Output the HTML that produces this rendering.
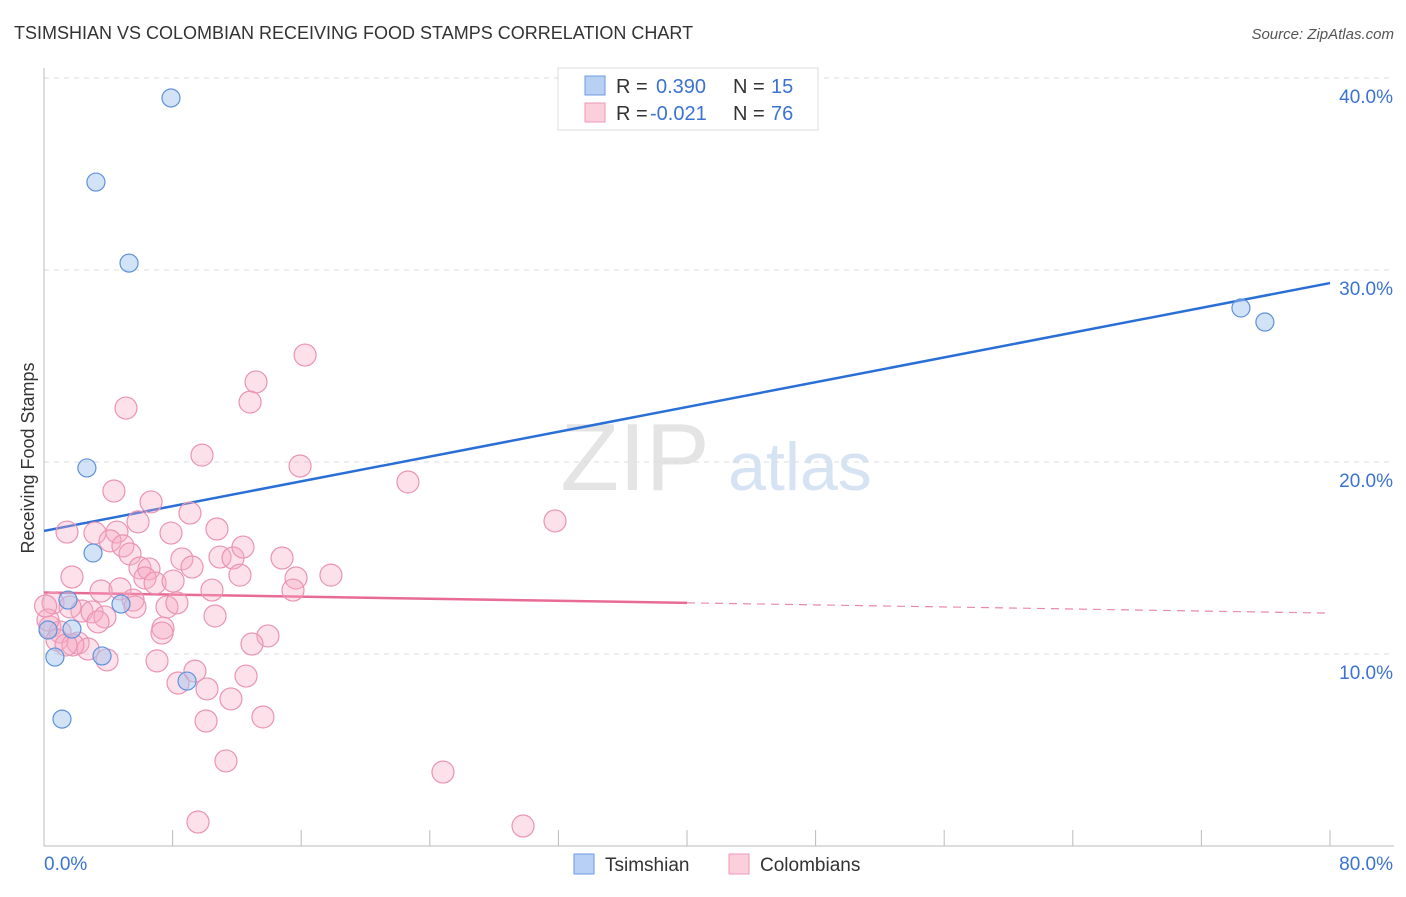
<!DOCTYPE html>
<html><head><meta charset="utf-8"><style>
body{margin:0;background:#fff;font-family:"Liberation Sans",sans-serif;}
svg text{font-family:"Liberation Sans",sans-serif;}
</style></head><body>
<svg id="chart" width="1406" height="892" xmlns="http://www.w3.org/2000/svg">
<text x="14" y="39" font-size="18" fill="#333">TSIMSHIAN VS COLOMBIAN RECEIVING FOOD STAMPS CORRELATION CHART</text>
<text x="1394" y="39" font-size="15" fill="#555" text-anchor="end" font-style="italic">Source: ZipAtlas.com</text>
<text transform="translate(34,458) rotate(-90)" font-size="18" fill="#333" text-anchor="middle">Receiving Food Stamps</text>
<g>
<text x="635" y="490" font-size="96" fill="#e4e4e4" font-family="Liberation Serif,serif" text-anchor="middle">ZIP</text>
<text x="800" y="490" font-size="68" fill="#d6e3f3" text-anchor="middle">atlas</text>
</g>
<g id="grid"></g><g id="axes"></g><g id="lines"></g><g id="pts"></g>
<g>
<rect x="558" y="68" width="260" height="62" fill="#fff" stroke="#ddd"/>
<rect x="585" y="76" width="20" height="19" fill="#b7d0f3" stroke="#6d9be0"/>
<rect x="585" y="103" width="20" height="19" fill="#fbcfdc" stroke="#ec9ab4"/>
<text x="616" y="93" font-size="20" fill="#333">R =</text><text x="656" y="93" font-size="20" fill="#3b73d1">0.390</text>
<text x="733" y="93" font-size="20" fill="#333">N =</text><text x="771" y="93" font-size="20" fill="#3b73d1">15</text>
<text x="616" y="120" font-size="20" fill="#333">R =</text><text x="650" y="120" font-size="20" fill="#3b73d1">-0.021</text>
<text x="733" y="120" font-size="20" fill="#333">N =</text><text x="771" y="120" font-size="20" fill="#3b73d1">76</text>
</g>
<g>
<rect x="574" y="854" width="20" height="20" fill="#b7d0f3" stroke="#6d9be0"/>
<text x="605" y="871" font-size="19" fill="#333">Tsimshian</text>
<rect x="729" y="854" width="20" height="20" fill="#fbcfdc" stroke="#ec9ab4"/>
<text x="760" y="871" font-size="19" fill="#333">Colombians</text>
</g>
</svg>
<script>
const yTicks=[10,20,30,40];
const yTickLabels=["10.0%","20.0%","30.0%","40.0%"];
const xTickLabels=["0.0%","80.0%"];
const blueX=[7.9,3.23,5.29,2.67,3.05,1.49,4.79,1.74,0.25,3.61,0.68,8.9,1.12,74.46,75.95];
const blueY=[38.96,34.58,30.36,19.69,15.26,12.81,12.6,11.3,11.25,9.9,9.84,8.59,6.61,28.02,27.29];
const pinkX=[9.83,15.93,4.35,6.66,9.08,5.85,1.43,3.17,4.54,7.9,10.76,4.11,4.91,5.35,8.58,10.95,11.76,12.38,14.81,9.21,5.97,6.53,6.28,6.91,8.03,12.19,15.68,17.85,1.74,10.45,15.49,3.55,4.73,5.54,5.66,7.65,8.27,2.36,2.99,3.79,3.36,10.64,0.56,1.62,7.4,7.34,13.93,12.94,0.37,1.0,0.81,2.12,2.74,1.8,3.92,7.03,9.39,12.57,8.34,10.14,11.63,10.08,13.62,16.24,13.19,12.82,5.1,22.64,31.79,11.32,24.82,9.58,29.8,0.25,1.37,0.1];
const pinkY=[20.36,19.79,18.49,17.92,17.34,16.88,16.35,16.3,16.35,16.3,16.51,15.89,15.63,15.21,14.95,15.05,15.0,15.57,15.0,14.53,14.48,14.43,13.96,13.7,13.8,14.11,13.96,14.11,14.01,13.33,13.33,13.28,13.39,12.81,12.45,12.45,12.66,12.24,12.19,11.93,11.67,11.98,12.66,12.45,11.35,11.09,10.94,10.52,11.41,11.15,10.73,10.57,10.26,10.47,9.69,9.64,9.11,8.85,8.49,8.18,7.66,6.51,6.72,25.57,24.17,23.12,22.81,18.96,16.93,4.43,3.85,1.25,1.04,11.77,10.47,12.5];
const blueTrend=[16.41,29.32];   // value at x=0, x=80
const pinkTrend=[13.2,12.13];
const X=v=>44+v/80*1286, Y=v=>846-v*19.2;
const NS="http://www.w3.org/2000/svg";
function mk(tag,attrs,parent){const e=document.createElementNS(NS,tag);for(const k in attrs)e.setAttribute(k,attrs[k]);document.getElementById(parent).appendChild(e);return e;}
yTicks.forEach((t,i)=>{
 const g=mk('line',{x1:44,x2:1394,y1:Y(t),y2:Y(t),stroke:'#ddd','stroke-dasharray':'5,5'},'grid');
 
 
 const l=mk('text',{x:1393,y:Y(t)+25,'font-size':19,fill:'#3b73d1','text-anchor':'end'},'axes');
 l.textContent=yTickLabels[i];
 
 
});
const ax=mk('line',{x1:44,x2:44,y1:68,y2:846,stroke:'#bbb'},'axes');


const bx=mk('line',{x1:44,x2:1394,y1:846,y2:846,stroke:'#bbb'},'axes');


for(let i=0;i<=10;i++){
 const t=mk('line',{x1:X(i*8),x2:X(i*8),y1:830,y2:846,stroke:'#bbb'},'axes');
 
 
}
[[0,'start',44],[80,'end',1393]].forEach((p,i)=>{
 const l=mk('text',{x:p[2],y:870,'font-size':19,fill:'#3b73d1','text-anchor':p[1]},'axes');
 l.textContent=xTickLabels[i];
 
 
});
const tr=(a,x)=>a[0]+(a[1]-a[0])*x/80;
const bl=mk('line',{x1:X(0),y1:Y(tr(blueTrend,0)),x2:X(80),y2:Y(tr(blueTrend,80)),stroke:'#2a6fd6','stroke-width':2.5},'lines');


const pl=mk('line',{x1:X(0),y1:Y(tr(pinkTrend,0)),x2:X(40),y2:Y(tr(pinkTrend,40)),stroke:'#e86b95','stroke-width':2.5},'lines');


const pd=mk('line',{x1:X(40),y1:Y(tr(pinkTrend,40)),x2:X(80),y2:Y(tr(pinkTrend,80)),stroke:'#e88aa8','stroke-width':1.2,'stroke-dasharray':'8,6'},'lines');


pinkX.forEach((x,i)=>{
 const c=mk('circle',{cx:X(x),cy:Y(pinkY[i]),r:11,fill:'rgba(246,170,195,0.35)',stroke:'#eb94b2','stroke-width':1.2},'pts');
 
 
});
blueX.forEach((x,i)=>{
 const c=mk('circle',{cx:X(x),cy:Y(blueY[i]),r:9,fill:'rgba(165,198,240,0.5)',stroke:'#5f92db','stroke-width':1.2},'pts');
 
 
});
</script>
</body></html>
